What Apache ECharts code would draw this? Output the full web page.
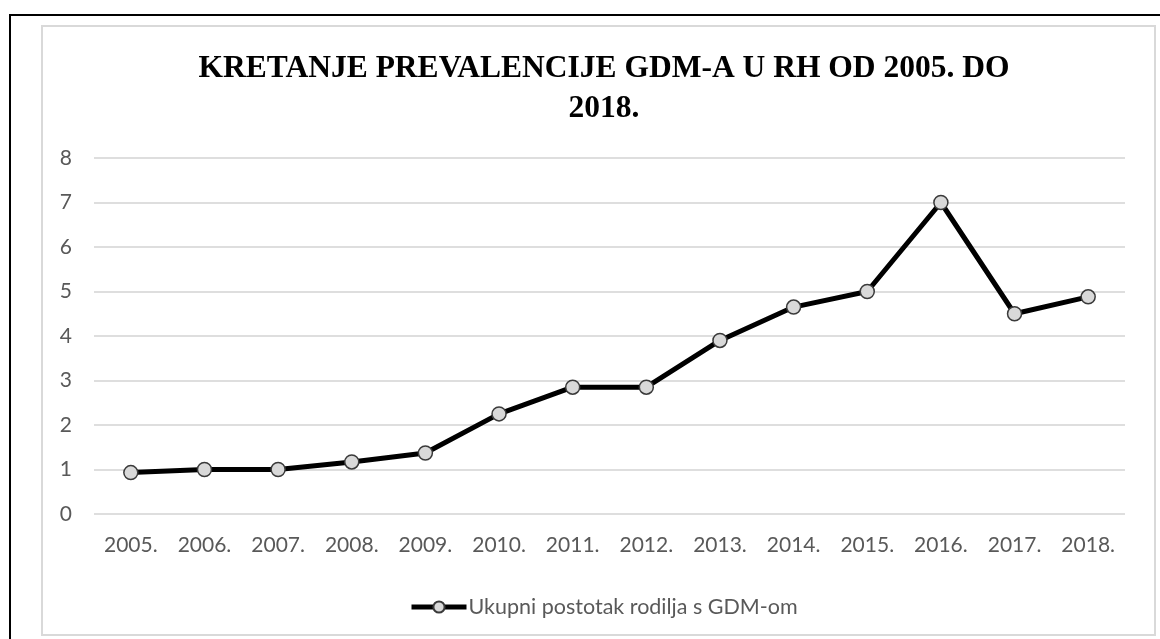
<!DOCTYPE html>
<html lang="hr">
<head>
    <meta charset="UTF-8">
    <title>Kretanje prevalencije GDM-a</title>
    <style>
        html, body { margin: 0; padding: 0; background: #fff; }
        #chart { width: 1160px; height: 639px; }
    </style>
</head>
<body>
<div id="chart"></div>
<script src="https://cdn.jsdelivr.net/npm/echarts@6/dist/echarts.min.js"></script>
<script type="text/javascript">
    const years = ['2005.', '2006.', '2007.', '2008.', '2009.', '2010.', '2011.',
                   '2012.', '2013.', '2014.', '2015.', '2016.', '2017.', '2018.'];
    const gdmPercent = [0.93, 1.0, 1.0, 1.17, 1.37, 2.25, 2.85,
                        2.85, 3.9, 4.65, 5.0, 7.0, 4.5, 4.88];
    const seriesName = 'Ukupni postotak rodilja s GDM-om';
    const titleText = 'KRETANJE PREVALENCIJE GDM-A U RH OD 2005. DO\n2018.';

    const chart = echarts.init(document.getElementById('chart'));

    const labelFont = {
        color: '#595959',
        fontFamily: 'Lato',
        fontSize: 21
    };

    chart.setOption({
        animation: false,
        graphic: [
            {
                type: 'rect',
                shape: { x: 10, y: 15, width: 1300, height: 800 },
                style: { fill: 'none', stroke: '#000', lineWidth: 2 }
            },
            {
                type: 'rect',
                shape: { x: 42, y: 26, width: 1113, height: 609 },
                style: { fill: 'none', stroke: '#d9d9d9', lineWidth: 2 }
            }
        ],
        title: {
            text: titleText,
            left: 599,
            top: 44,
            textAlign: 'center',
            textStyle: {
                fontFamily: 'Liberation Serif',
                fontWeight: 'bold',
                fontSize: 31.5,
                lineHeight: 40,
                color: '#000'
            }
        },
        legend: {
            data: [seriesName],
            left: 404,
            top: 591,
            itemWidth: 55,
            itemHeight: 14,
            itemGap: 4,
            lineStyle: { width: 5, color: '#000' },
            textStyle: { color: '#595959', fontFamily: 'Lato', fontSize: 21.5, padding: [0, 0, 0, -3] }
        },
        grid: {
            left: 94,
            right: 35,
            top: 158,
            bottom: 125,
            containLabel: false
        },
        xAxis: {
            type: 'category',
            data: years,
            boundaryGap: true,
            axisLine: { show: false },
            axisTick: { show: false },
            axisLabel: Object.assign({ margin: 21 }, labelFont)
        },
        yAxis: {
            type: 'value',
            min: 0,
            max: 8,
            interval: 1,
            axisLine: { show: false },
            axisTick: { show: false },
            axisLabel: Object.assign({ margin: 22 }, labelFont),
            splitLine: { lineStyle: { color: '#dedede', width: 2 } }
        },
        series: [
            {
                name: seriesName,
                type: 'line',
                data: gdmPercent,
                symbol: 'circle',
                symbolSize: 14,
                lineStyle: { color: '#000', width: 5 },
                itemStyle: { color: '#d9d9d9', borderColor: '#3a3a3a', borderWidth: 1.5 }
            }
        ]
    });
</script>
</body>
</html>
